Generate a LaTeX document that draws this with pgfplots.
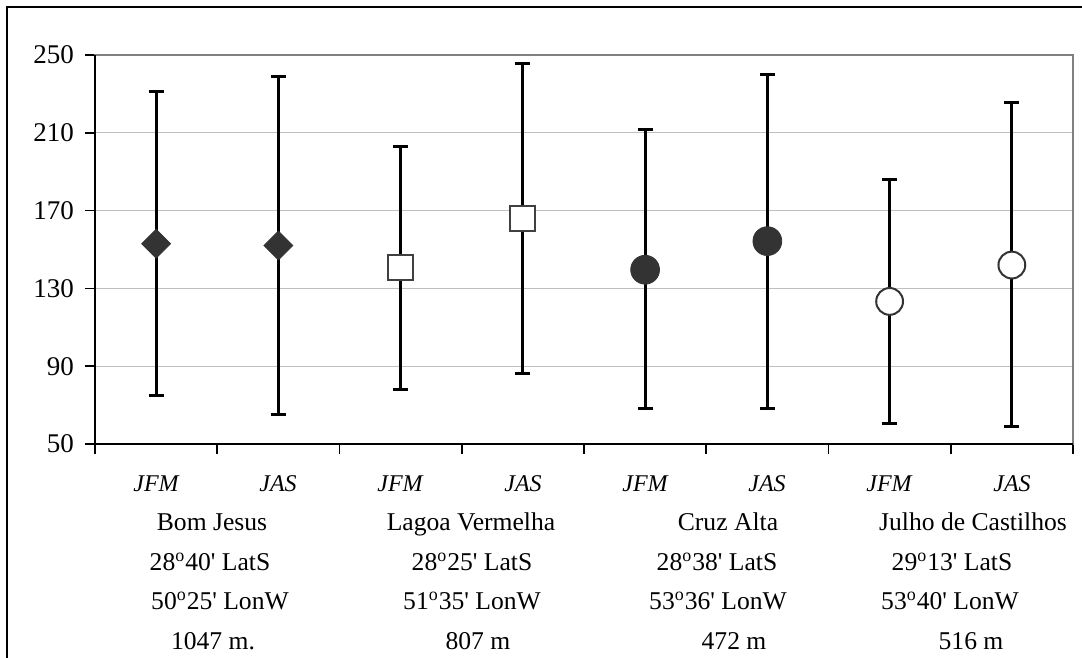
\documentclass[border=0pt]{standalone}
\usepackage{fontspec}
\setmainfont{Liberation Serif}[Ligatures=TeXOff]
\usepackage{pgfplots}
\usepackage{pgfplotstable}
\pgfplotsset{compat=1.18}

\definecolor{mk}{HTML}{333333}
\definecolor{mkedge}{HTML}{404040}

% x  mean  high  low
\pgfplotstableread{
x   y     hi    lo
0.5 153   231   75
1.5 152   239   65
}\bomjesus
\pgfplotstableread{
x   y     hi    lo
2.5 141   203   78
3.5 166   245.5 86
}\lagoa
\pgfplotstableread{
x   y     hi    lo
4.5 139.6 211.5 68
5.5 154.3 240   68
}\cruz
\pgfplotstableread{
x   y     hi    lo
6.5 123.3 186   60.5
7.5 142   225.5 59
}\julho

\begin{document}
\begin{tikzpicture}
\begin{axis}[
    at={(47.5pt,-27.5pt)}, anchor=north west,
    scale only axis,
    width=489pt, height=194.5pt,
    xmin=0, xmax=8,
    ymin=50, ymax=250,
    xtick={0,...,8}, xticklabels={},
    ytick={50,90,130,170,210,250},
    xtick pos=bottom, ytick pos=left,
    tick align=outside,
    major tick length=5pt,
    tick style={black, line width=0.8pt},
    axis line style={black!50, line width=1pt},
    ymajorgrids=true,
    grid style={black!25, line width=0.5pt},
    /pgf/number format/assume math mode=true,
    yticklabel style={font=\fontsize{13.5}{16}\selectfont, xshift=-2pt},
    clip=false,
    error bars/error bar style={black, line width=1.5pt},
    error bars/error mark options={black, rotate=90, line width=1.5pt, mark size=3.75pt},
]
\addplot[only marks, mark=square*, mark size=5.1pt,
    mark options={rotate=45, fill=mk, draw=mk},
    error bars/.cd, y dir=both, y explicit]
    table[x=x, y=y, y error plus expr=\thisrow{hi}-\thisrow{y},
          y error minus expr=\thisrow{y}-\thisrow{lo}] {\bomjesus};
\addplot[only marks, mark=square*, mark size=6.25pt,
    mark options={fill=white, draw=mkedge, line width=1pt},
    error bars/.cd, y dir=both, y explicit]
    table[x=x, y=y, y error plus expr=\thisrow{hi}-\thisrow{y},
          y error minus expr=\thisrow{y}-\thisrow{lo}] {\lagoa};
\addplot[only marks, mark=*, mark size=7.2pt,
    mark options={fill=mk, draw=mk},
    error bars/.cd, y dir=both, y explicit]
    table[x=x, y=y, y error plus expr=\thisrow{hi}-\thisrow{y},
          y error minus expr=\thisrow{y}-\thisrow{lo}] {\cruz};
\addplot[only marks, mark=*, mark size=6.7pt,
    mark options={fill=white, draw=mk, line width=1pt},
    error bars/.cd, y dir=both, y explicit]
    table[x=x, y=y, y error plus expr=\thisrow{hi}-\thisrow{y},
          y error minus expr=\thisrow{y}-\thisrow{lo}] {\julho};
% left and bottom axis lines in black
\draw[black, line width=1pt] (rel axis cs:0,1) -- (rel axis cs:0,0) -- (rel axis cs:1,0);
\end{axis}

% outer frame (left and top)
\draw[black, line width=1pt] (3.5pt,-329pt) -- (3.5pt,-3.5pt) -- (541pt,-3.5pt);

% season labels
\foreach \xx/\lab in {78/JFM,139/JAS,200/JFM,261.5/JAS,322.5/JFM,383.5/JAS,444.5/JFM,506/JAS}
  \node[anchor=base, inner sep=0pt, font=\fontsize{12}{14}\selectfont\itshape] at (\xx pt,-245.5pt) {\lab};

% station information
\begin{scope}[every node/.style={anchor=base, inner sep=0pt, font=\fontsize{12.8}{14}\selectfont}]
\node at (106pt,-265pt) {Bom Jesus};
\node at (105pt,-285pt) {28\textsuperscript{o}40' LatS};
\node at (110pt,-304.8pt) {50\textsuperscript{o}25' LonW};
\node at (106.5pt,-324.5pt) {1047 m.};
\node at (235.5pt,-265pt) {Lagoa Vermelha};
\node at (236pt,-285pt) {28\textsuperscript{o}25' LatS};
\node at (236pt,-304.8pt) {51\textsuperscript{o}35' LonW};
\node at (239pt,-324.5pt) {807 m};
\node at (364pt,-265pt) {Cruz Alta};
\node at (358.5pt,-285pt) {28\textsuperscript{o}38' LatS};
\node at (359pt,-304.8pt) {53\textsuperscript{o}36' LonW};
\node at (367pt,-324.5pt) {472 m};
\node at (486.5pt,-265pt) {Julho de Castilhos};
\node at (476pt,-285pt) {29\textsuperscript{o}13' LatS};
\node at (475pt,-304.8pt) {53\textsuperscript{o}40' LonW};
\node at (485.5pt,-324.5pt) {516 m};
\end{scope}

\pgfresetboundingbox
\useasboundingbox (0,0) rectangle (541pt,-329pt);
\end{tikzpicture}
\end{document}
